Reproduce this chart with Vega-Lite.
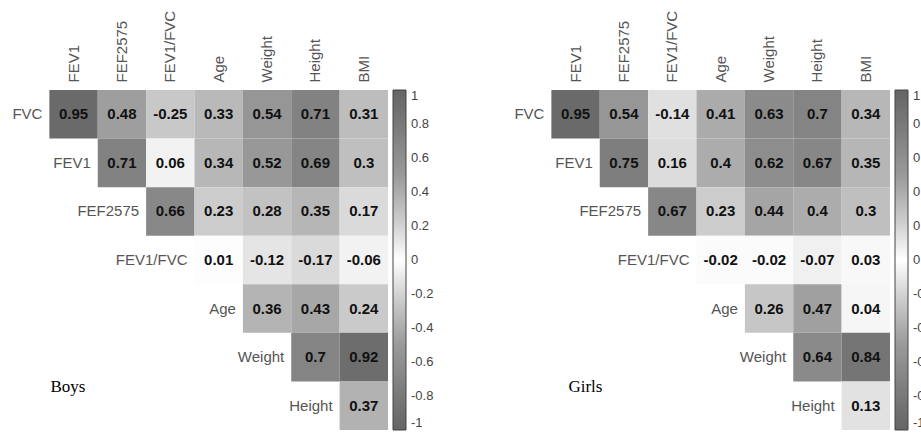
{
  "$schema": "https://vega.github.io/schema/vega-lite/v6.json",
  "padding": {"left": 1, "top": 10, "right": 0, "bottom": 0},
  "background": "white",
  "config": {"view": {"stroke": null}, "font": "Liberation Sans"},
  "datasets": {
    "cells": [
      {"panel": "Boys", "row": "FVC", "col": "FEV1", "r": 0.95},
      {"panel": "Boys", "row": "FVC", "col": "FEF2575", "r": 0.48},
      {"panel": "Boys", "row": "FVC", "col": "FEV1/FVC", "r": -0.25},
      {"panel": "Boys", "row": "FVC", "col": "Age", "r": 0.33},
      {"panel": "Boys", "row": "FVC", "col": "Weight", "r": 0.54},
      {"panel": "Boys", "row": "FVC", "col": "Height", "r": 0.71},
      {"panel": "Boys", "row": "FVC", "col": "BMI", "r": 0.31},
      {"panel": "Boys", "row": "FEV1", "col": "FEF2575", "r": 0.71},
      {"panel": "Boys", "row": "FEV1", "col": "FEV1/FVC", "r": 0.06},
      {"panel": "Boys", "row": "FEV1", "col": "Age", "r": 0.34},
      {"panel": "Boys", "row": "FEV1", "col": "Weight", "r": 0.52},
      {"panel": "Boys", "row": "FEV1", "col": "Height", "r": 0.69},
      {"panel": "Boys", "row": "FEV1", "col": "BMI", "r": 0.3},
      {"panel": "Boys", "row": "FEF2575", "col": "FEV1/FVC", "r": 0.66},
      {"panel": "Boys", "row": "FEF2575", "col": "Age", "r": 0.23},
      {"panel": "Boys", "row": "FEF2575", "col": "Weight", "r": 0.28},
      {"panel": "Boys", "row": "FEF2575", "col": "Height", "r": 0.35},
      {"panel": "Boys", "row": "FEF2575", "col": "BMI", "r": 0.17},
      {"panel": "Boys", "row": "FEV1/FVC", "col": "Age", "r": 0.01},
      {"panel": "Boys", "row": "FEV1/FVC", "col": "Weight", "r": -0.12},
      {"panel": "Boys", "row": "FEV1/FVC", "col": "Height", "r": -0.17},
      {"panel": "Boys", "row": "FEV1/FVC", "col": "BMI", "r": -0.06},
      {"panel": "Boys", "row": "Age", "col": "Weight", "r": 0.36},
      {"panel": "Boys", "row": "Age", "col": "Height", "r": 0.43},
      {"panel": "Boys", "row": "Age", "col": "BMI", "r": 0.24},
      {"panel": "Boys", "row": "Weight", "col": "Height", "r": 0.7},
      {"panel": "Boys", "row": "Weight", "col": "BMI", "r": 0.92},
      {"panel": "Boys", "row": "Height", "col": "BMI", "r": 0.37},
      {"panel": "Girls", "row": "FVC", "col": "FEV1", "r": 0.95},
      {"panel": "Girls", "row": "FVC", "col": "FEF2575", "r": 0.54},
      {"panel": "Girls", "row": "FVC", "col": "FEV1/FVC", "r": -0.14},
      {"panel": "Girls", "row": "FVC", "col": "Age", "r": 0.41},
      {"panel": "Girls", "row": "FVC", "col": "Weight", "r": 0.63},
      {"panel": "Girls", "row": "FVC", "col": "Height", "r": 0.7},
      {"panel": "Girls", "row": "FVC", "col": "BMI", "r": 0.34},
      {"panel": "Girls", "row": "FEV1", "col": "FEF2575", "r": 0.75},
      {"panel": "Girls", "row": "FEV1", "col": "FEV1/FVC", "r": 0.16},
      {"panel": "Girls", "row": "FEV1", "col": "Age", "r": 0.4},
      {"panel": "Girls", "row": "FEV1", "col": "Weight", "r": 0.62},
      {"panel": "Girls", "row": "FEV1", "col": "Height", "r": 0.67},
      {"panel": "Girls", "row": "FEV1", "col": "BMI", "r": 0.35},
      {"panel": "Girls", "row": "FEF2575", "col": "FEV1/FVC", "r": 0.67},
      {"panel": "Girls", "row": "FEF2575", "col": "Age", "r": 0.23},
      {"panel": "Girls", "row": "FEF2575", "col": "Weight", "r": 0.44},
      {"panel": "Girls", "row": "FEF2575", "col": "Height", "r": 0.4},
      {"panel": "Girls", "row": "FEF2575", "col": "BMI", "r": 0.3},
      {"panel": "Girls", "row": "FEV1/FVC", "col": "Age", "r": -0.02},
      {"panel": "Girls", "row": "FEV1/FVC", "col": "Weight", "r": -0.02},
      {"panel": "Girls", "row": "FEV1/FVC", "col": "Height", "r": -0.07},
      {"panel": "Girls", "row": "FEV1/FVC", "col": "BMI", "r": 0.03},
      {"panel": "Girls", "row": "Age", "col": "Weight", "r": 0.26},
      {"panel": "Girls", "row": "Age", "col": "Height", "r": 0.47},
      {"panel": "Girls", "row": "Age", "col": "BMI", "r": 0.04},
      {"panel": "Girls", "row": "Weight", "col": "Height", "r": 0.64},
      {"panel": "Girls", "row": "Weight", "col": "BMI", "r": 0.84},
      {"panel": "Girls", "row": "Height", "col": "BMI", "r": 0.13}
    ],
    "rowlabels": [
      {"var": "FVC"}, {"var": "FEV1"}, {"var": "FEF2575"}, {"var": "FEV1/FVC"},
      {"var": "Age"}, {"var": "Weight"}, {"var": "Height"}
    ],
    "panels": [
      {"panel": "Boys", "col": "FEV1", "row": "Height"},
      {"panel": "Girls", "col": "FEV1", "row": "Height"}
    ]
  },
  "resolve": {"scale": {"color": "independent"}, "legend": {"color": "independent"}},
  "bounds": "flush",
  "spacing": 115,
  "hconcat": [
    {
      "width": 387,
      "height": 340,
      "layer": [
        {
          "data": {"name": "cells"},
          "transform": [{"filter": "datum.panel === 'Boys'"}],
          "mark": {"type": "rect"},
          "encoding": {
            "x": {"field": "col", "type": "nominal",
              "scale": {"domain": ["FVC", "FEV1", "FEF2575", "FEV1/FVC", "Age", "Weight", "Height", "BMI"], "paddingInner": 0, "paddingOuter": 0},
              "axis": {"orient": "top", "title": null, "labelAngle": -90, "labelAlign": "left", "labelBaseline": "middle", "labelFontSize": 15, "labelColor": "#555555", "labelFont": "Liberation Sans", "domain": false, "ticks": false, "labelPadding": 8, "labelExpr": "datum.value == 'FVC' ? '' : datum.value"}},
            "y": {"field": "row", "type": "nominal",
              "scale": {"domain": ["FVC", "FEV1", "FEF2575", "FEV1/FVC", "Age", "Weight", "Height"], "paddingInner": 0, "paddingOuter": 0},
              "axis": null},
            "color": {"field": "r", "type": "quantitative",
              "scale": {"domain": [-1, -0.75, -0.5, -0.25, 0, 0.25, 0.5, 0.75, 1], "range": ["#656565", "#7e7e7e", "#9a9a9a", "#c8c8c8", "#ffffff", "#c8c8c8", "#9a9a9a", "#7e7e7e", "#656565"], "interpolate": "rgb"},
              "legend": {"title": null, "orient": "right", "offset": 5, "direction": "vertical", "gradientLength": 340, "gradientThickness": 13, "values": [1, 0.8, 0.6, 0.4, 0.2, 0, -0.2, -0.4, -0.6, -0.8, -1], "labelExpr": "toString(datum.value)", "labelFontSize": 13, "labelColor": "#444444", "labelFont": "Liberation Sans", "labelOffset": 5, "labelOverlap": false, "gradientStrokeColor": "#444444", "gradientStrokeWidth": 1, "padding": 0}}
          }
        },
        {
          "data": {"name": "cells"},
          "transform": [{"filter": "datum.panel === 'Boys'"}],
          "mark": {"type": "text", "fontSize": 15, "fontWeight": "bold", "font": "Liberation Sans", "color": "#111111"},
          "encoding": {
            "x": {"field": "col", "type": "nominal"},
            "y": {"field": "row", "type": "nominal", "axis": null},
            "text": {"field": "r", "type": "nominal"}
          }
        },
        {
          "data": {"name": "rowlabels"},
          "mark": {"type": "text", "fontSize": 15, "font": "Liberation Sans", "color": "#555555", "align": "right", "dx": -7},
          "encoding": {
            "x": {"field": "var", "type": "nominal", "bandPosition": 1},
            "y": {"field": "var", "type": "nominal", "axis": null},
            "text": {"field": "var", "type": "nominal"}
          }
        },
        {
          "data": {"name": "panels"},
          "transform": [{"filter": "datum.panel === 'Boys'"}],
          "mark": {"type": "text", "fontSize": 17, "font": "Liberation Serif", "color": "#000000", "align": "left", "baseline": "alphabetic", "dx": 1, "dy": 11},
          "encoding": {
            "x": {"field": "col", "type": "nominal", "bandPosition": 0},
            "y": {"field": "row", "type": "nominal", "bandPosition": 0, "axis": null},
            "text": {"field": "panel", "type": "nominal"}
          }
        }
      ]
    },
    {
      "width": 387,
      "height": 340,
      "layer": [
        {
          "data": {"name": "cells"},
          "transform": [{"filter": "datum.panel === 'Girls'"}],
          "mark": {"type": "rect"},
          "encoding": {
            "x": {"field": "col", "type": "nominal",
              "scale": {"domain": ["FVC", "FEV1", "FEF2575", "FEV1/FVC", "Age", "Weight", "Height", "BMI"], "paddingInner": 0, "paddingOuter": 0},
              "axis": {"orient": "top", "title": null, "labelAngle": -90, "labelAlign": "left", "labelBaseline": "middle", "labelFontSize": 15, "labelColor": "#555555", "labelFont": "Liberation Sans", "domain": false, "ticks": false, "labelPadding": 8, "labelExpr": "datum.value == 'FVC' ? '' : datum.value"}},
            "y": {"field": "row", "type": "nominal",
              "scale": {"domain": ["FVC", "FEV1", "FEF2575", "FEV1/FVC", "Age", "Weight", "Height"], "paddingInner": 0, "paddingOuter": 0},
              "axis": null},
            "color": {"field": "r", "type": "quantitative",
              "scale": {"domain": [-1, -0.75, -0.5, -0.25, 0, 0.25, 0.5, 0.75, 1], "range": ["#656565", "#7e7e7e", "#9a9a9a", "#c8c8c8", "#ffffff", "#c8c8c8", "#9a9a9a", "#7e7e7e", "#656565"], "interpolate": "rgb"},
              "legend": {"title": null, "orient": "right", "offset": 5, "direction": "vertical", "gradientLength": 340, "gradientThickness": 13, "values": [1, 0.8, 0.6, 0.4, 0.2, 0, -0.2, -0.4, -0.6, -0.8, -1], "labelExpr": "toString(datum.value)", "labelFontSize": 13, "labelColor": "#444444", "labelFont": "Liberation Sans", "labelOffset": 5, "labelOverlap": false, "gradientStrokeColor": "#444444", "gradientStrokeWidth": 1, "padding": 0}}
          }
        },
        {
          "data": {"name": "cells"},
          "transform": [{"filter": "datum.panel === 'Girls'"}],
          "mark": {"type": "text", "fontSize": 15, "fontWeight": "bold", "font": "Liberation Sans", "color": "#111111"},
          "encoding": {
            "x": {"field": "col", "type": "nominal"},
            "y": {"field": "row", "type": "nominal", "axis": null},
            "text": {"field": "r", "type": "nominal"}
          }
        },
        {
          "data": {"name": "rowlabels"},
          "mark": {"type": "text", "fontSize": 15, "font": "Liberation Sans", "color": "#555555", "align": "right", "dx": -7},
          "encoding": {
            "x": {"field": "var", "type": "nominal", "bandPosition": 1},
            "y": {"field": "var", "type": "nominal", "axis": null},
            "text": {"field": "var", "type": "nominal"}
          }
        },
        {
          "data": {"name": "panels"},
          "transform": [{"filter": "datum.panel === 'Girls'"}],
          "mark": {"type": "text", "fontSize": 17, "font": "Liberation Serif", "color": "#000000", "align": "left", "baseline": "alphabetic", "dx": 17, "dy": 11},
          "encoding": {
            "x": {"field": "col", "type": "nominal", "bandPosition": 0},
            "y": {"field": "row", "type": "nominal", "bandPosition": 0, "axis": null},
            "text": {"field": "panel", "type": "nominal"}
          }
        }
      ]
    }
  ]
}
